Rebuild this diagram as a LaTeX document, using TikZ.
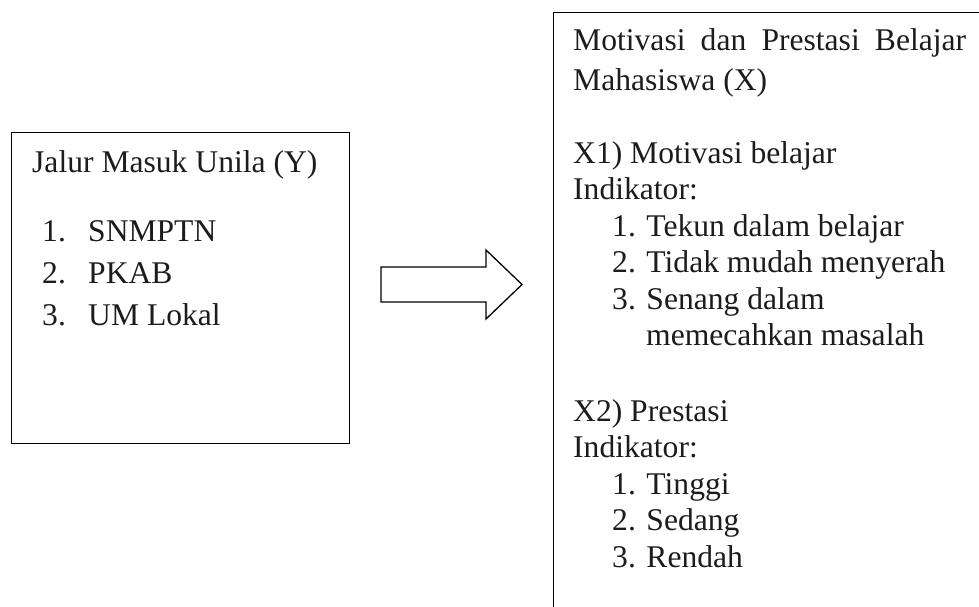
\documentclass[tikz,border=0pt]{standalone}
\usepackage{fontspec}
\setmainfont{Liberation Serif}
\definecolor{ink}{RGB}{30,28,26}
\begin{document}
\begin{tikzpicture}[x=1pt,y=-1pt,
  txt/.style={anchor=base west, inner sep=0pt, font=\fontsize{31.6}{36}\selectfont, text=ink},
  frame/.style={draw=black, line width=1.3pt, inner sep=0pt}]
\useasboundingbox (0,0) rectangle (979,607);
\clip (0,0) rectangle (979,607);
% boxes
\node[frame, anchor=north west, minimum width=338pt, minimum height=311pt] (left) at (11,132) {};
\node[frame, anchor=north west, minimum width=440pt, minimum height=610pt] (right) at (553,12) {};
% block arrow
\draw[frame, line join=miter] (381,267) -- (486,267) -- (486,250) -- (522,284.5) -- (486,319) -- (486,302) -- (381,302) -- cycle;
% left text
\node[txt] (ltitle) at (32,172) {Jalur Masuk Unila (Y)};
\node[txt] (ln1) at (42,241) {1.};
\node[txt] (li1) at (88,241) {SNMPTN};
\node[txt] (ln2) at (42,283) {2.};
\node[txt] (li2) at (88,283) {PKAB};
\node[txt] (ln3) at (42,325) {3.};
\node[txt] (li3) at (88,325) {UM Lokal};
% right text
\node[txt] (rt1) at (573,51) {\makebox[393pt][s]{Motivasi dan Prestasi Belajar}};
\node[txt] (rt2) at (573,91) {Mahasiswa (X)};
\node[txt] (x1) at (573,163) {X1) Motivasi belajar};
\node[txt] (ind1) at (573,199.5) {Indikator:};
\node[txt] (a1) at (612,236) {1. Tekun dalam belajar};
\node[txt] (a2) at (612,272.5) {2. Tidak mudah menyerah};
\node[txt] (a3) at (612,309) {3. Senang dalam};
\node[txt] (a3b) at (646,345) {memecahkan masalah};
\node[txt] (x2) at (573,421) {X2) Prestasi};
\node[txt] (ind2) at (573,457.5) {Indikator:};
\node[txt] (b1) at (612,494) {1. Tinggi};
\node[txt] (b2) at (612,530.5) {2. Sedang};
\node[txt] (b3) at (612,567) {3. Rendah};
\end{tikzpicture}
\end{document}
